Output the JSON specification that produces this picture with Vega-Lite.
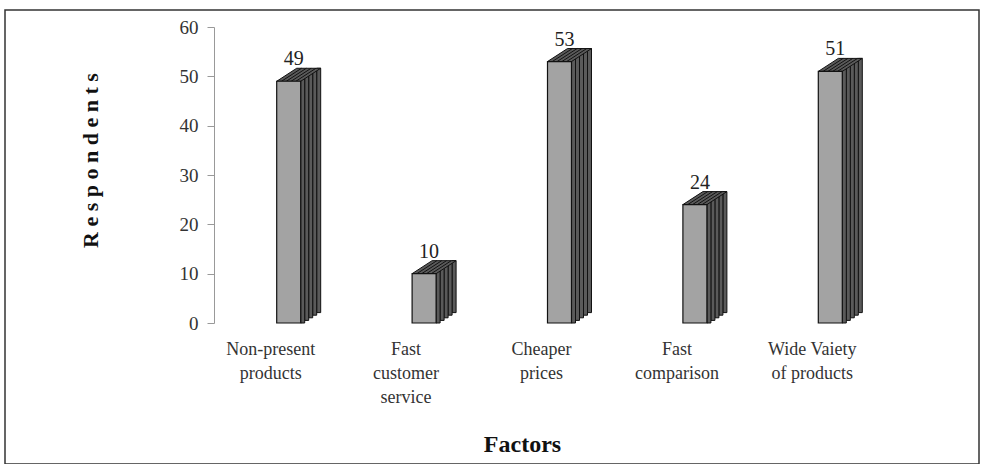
{
  "$schema": "https://vega.github.io/schema/vega-lite/v6.json",
  "width": 974,
  "height": 454,
  "autosize": {"type": "none"},
  "padding": {"left": 5, "top": 10, "right": 6, "bottom": 0},
  "background": "white",
  "config": {
    "view": {"stroke": "#333", "strokeWidth": 1.5},
    "font": "Liberation Serif"
  },
  "data": {
    "values": [
      {"factor": "Non-present\nproducts", "respondents": 49},
      {"factor": "Fast\ncustomer\nservice", "respondents": 10},
      {"factor": "Cheaper\nprices", "respondents": 53},
      {"factor": "Fast\ncomparison", "respondents": 24},
      {"factor": "Wide Vaiety\nof products", "respondents": 51}
    ]
  },
  "encoding": {
    "x": {
      "field": "factor",
      "type": "nominal",
      "sort": null,
      "scale": {"range": [216, 893], "paddingInner": 0, "paddingOuter": 0},
      "axis": {
        "title": "Factors",
        "orient": "bottom",
        "offset": -124,
        "domain": false,
        "ticks": false,
        "grid": false,
        "labelAngle": 0,
        "labelExpr": "split(datum.value, '\\n')",
        "labelBaseline": "top",
        "labelPadding": 0,
        "labelOffset": -18,
        "labelFont": "Liberation Serif",
        "labelFontSize": 18,
        "labelLineHeight": 24,
        "labelColor": "#333",
        "labelLimit": 0,
        "labelOverlap": false,
        "labelFlush": false,
        "titleX": 517,
        "titleY": 104,
        "titleFont": "Liberation Serif",
        "titleFontSize": 24,
        "titleFontWeight": "bold",
        "titleBaseline": "middle",
        "titleAlign": "center",
        "titleColor": "#111"
      }
    },
    "y": {
      "field": "respondents",
      "type": "quantitative",
      "scale": {"domain": [0, 60], "range": [313, 17], "nice": false, "zero": true},
      "axis": {
        "title": "R\u00a0e\u00a0s\u00a0p\u00a0o\u00a0n\u00a0d\u00a0e\u00a0n\u00a0t\u00a0s",
        "values": [0, 10, 20, 30, 40, 50, 60],
        "offset": -209,
        "grid": false,
        "domainColor": "#999",
        "tickColor": "#999",
        "tickSize": 7,
        "labelPadding": 9,
        "labelFont": "Liberation Serif",
        "labelFontSize": 19,
        "labelColor": "#333",
        "titleX": -124,
        "titleY": 150,
        "titleAngle": -90,
        "titleAlign": "center",
        "titleBaseline": "middle",
        "titleFont": "Liberation Serif",
        "titleFontSize": 22,
        "titleFontWeight": "bold",
        "titleColor": "#111"
      }
    }
  },
  "layer": [
    {
      "mark": {"type": "bar", "width": 4, "xOffset": 30, "yOffset": -13, "y2Offset": -10.4, "fill": "#5a5a5a", "stroke": "#111", "strokeWidth": 1},
      "encoding": {"y2": {"datum": 0}}
    },
    {
      "mark": {"type": "bar", "width": 4, "xOffset": 26, "yOffset": -10.4, "y2Offset": -7.8, "fill": "#5a5a5a", "stroke": "#111", "strokeWidth": 1},
      "encoding": {"y2": {"datum": 0}}
    },
    {
      "mark": {"type": "bar", "width": 4, "xOffset": 22, "yOffset": -7.8, "y2Offset": -5.2, "fill": "#5a5a5a", "stroke": "#111", "strokeWidth": 1},
      "encoding": {"y2": {"datum": 0}}
    },
    {
      "mark": {"type": "bar", "width": 4, "xOffset": 18, "yOffset": -5.2, "y2Offset": -2.6, "fill": "#5a5a5a", "stroke": "#111", "strokeWidth": 1},
      "encoding": {"y2": {"datum": 0}}
    },
    {
      "mark": {"type": "bar", "width": 4, "xOffset": 14, "yOffset": -2.6, "y2Offset": 0, "fill": "#5a5a5a", "stroke": "#111", "strokeWidth": 1},
      "encoding": {"y2": {"datum": 0}}
    },
    {
      "mark": {
        "type": "point",
        "shape": "M -1.2 0 L 1.2 0 L 3.2 -1.3 L 0.8 -1.3 Z M -0.72 0 L 1.28 -1.3 M -0.24 0 L 1.76 -1.3 M 0.24 0 L 2.24 -1.3 M 0.72 0 L 2.72 -1.3",
        "size": 400,
        "filled": true,
        "opacity": 1,
        "fill": "#5a5a5a",
        "stroke": "#111",
        "strokeWidth": 1
      }
    },
    {
      "mark": {"type": "bar", "width": 24, "fill": "#a3a3a3", "stroke": "#111", "strokeWidth": 1.2},
      "encoding": {"y2": {"datum": 0}}
    },
    {
      "mark": {"type": "text", "dx": 5, "dy": -16, "baseline": "alphabetic", "align": "center", "font": "Liberation Serif", "fontSize": 20, "color": "#222"},
      "encoding": {"text": {"field": "respondents", "type": "quantitative"}}
    }
  ]
}
